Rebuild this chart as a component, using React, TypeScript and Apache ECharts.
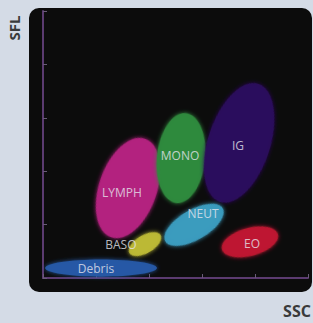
import React, { useEffect, useRef } from "react";
import * as echarts from "echarts";

// Populations: name, center (SSC, SFL), radii (along x, along y in axis units), rotation (deg, CCW)
const populations = ["Debris", "BASO", "LYMPH", "MONO", "IG", "NEUT", "EO"];
const centerX = [21.9, 38.5, 32.1, 52.1, 74.0, 57.0, 78.1];
const centerY = [3.7, 12.7, 33.7, 44.9, 50.6, 19.9, 13.5];
const radiusX = [21.1, 6.8, 10.9, 9.1, 11.7, 12.5, 10.9];
const radiusY = [3.2, 3.4, 19.5, 16.9, 23.2, 5.6, 5.2];
const rotationDeg = [0, 30, -19, -6, -18, 30, 15];
const colors = ["#2558a6", "#bdb935", "#b4217f", "#2f8a3d", "#2b0f5d", "#3b9cbf", "#bf1830"];

// Label positions
const labelX = [20.0, 29.4, 29.8, 51.7, 73.6, 60.4, 78.9];
const labelY = [3.4, 12.7, 32.2, 45.7, 49.8, 24.3, 13.1];

const xTicks = [0, 20, 40, 60, 80, 100];
const yTicks = [0, 20, 40, 60, 80, 100];

export default function App() {
  const ref = useRef<HTMLDivElement>(null);
  useEffect(() => {
    if (!ref.current) return;
    const chart = echarts.init(ref.current, null, { renderer: "svg" });
    const axisColor = "#5b3b70";
    chart.setOption({
      animation: false,
      backgroundColor: "#d4dbe6",
      grid: { left: 43, top: 11, right: 5, bottom: 45 },
      xAxis: {
        type: "value",
        min: xTicks[0],
        max: xTicks[xTicks.length - 1],
        interval: 20,
        axisLine: { show: true, lineStyle: { color: axisColor, width: 2 } },
        axisTick: { show: true, inside: true, length: 4, lineStyle: { color: "#6a5a78" } },
        axisLabel: { show: false },
        splitLine: { show: false },
      },
      yAxis: {
        type: "value",
        min: yTicks[0],
        max: yTicks[yTicks.length - 1],
        interval: 20,
        axisLine: { show: true, lineStyle: { color: axisColor, width: 2 } },
        axisTick: { show: true, inside: true, length: 4, lineStyle: { color: "#6a5a78" } },
        axisLabel: { show: false },
        splitLine: { show: false },
      },
      graphic: [
        {
          type: "rect",
          z: -10,
          shape: { x: 29, y: 8, width: 283, height: 284, r: 10 },
          style: { fill: "#0c0c0c" },
        },
        {
          type: "text",
          x: 14,
          y: 28,
          rotation: Math.PI / 2,
          style: {
            text: "SFL",
            fill: "#3a3a3a",
            font: "bold 15px 'Open Sans', sans-serif",
            textAlign: "center",
            textVerticalAlign: "middle",
          },
        },
        {
          type: "text",
          x: 297,
          y: 311,
          style: {
            text: "SSC",
            fill: "#3a3a3a",
            font: "bold 16px 'Open Sans', sans-serif",
            textAlign: "center",
            textVerticalAlign: "middle",
          },
        },
      ],
      series: [
        {
          type: "custom",
          coordinateSystem: "cartesian2d",
          data: populations.map((n, i) => [centerX[i], centerY[i], radiusX[i], radiusY[i], rotationDeg[i], i]),
          renderItem: (params: any, api: any) => {
            const c = api.coord([api.value(0), api.value(1)]);
            const s = api.size([api.value(2), api.value(3)]);
            const idx = api.value(5);
            return {
              type: "ellipse",
              x: c[0],
              y: c[1],
              rotation: (api.value(4) * Math.PI) / 180,
              shape: { cx: 0, cy: 0, rx: s[0], ry: s[1] },
              style: {
                fill: colors[idx],
                shadowBlur: 4,
                shadowColor: colors[idx],
                opacity: 0.95,
              },
            };
          },
          z: 2,
        },
        {
          type: "scatter",
          symbolSize: 0,
          z: 5,
          data: populations.map((n, i) => ({ value: [labelX[i], labelY[i]], name: n })),
          label: {
            show: true,
            position: "inside",
            formatter: (p: any) => p.name,
            color: "#e6e6ee",
            fontSize: 12,
            fontFamily: "'Open Sans', sans-serif",
          },
        },
      ],
    });
    return () => chart.dispose();
  }, []);
  return (
    <div
      ref={ref}
      style={{ position: "fixed", left: 0, top: 0, width: 313, height: 323 }}
    />
  );
}
